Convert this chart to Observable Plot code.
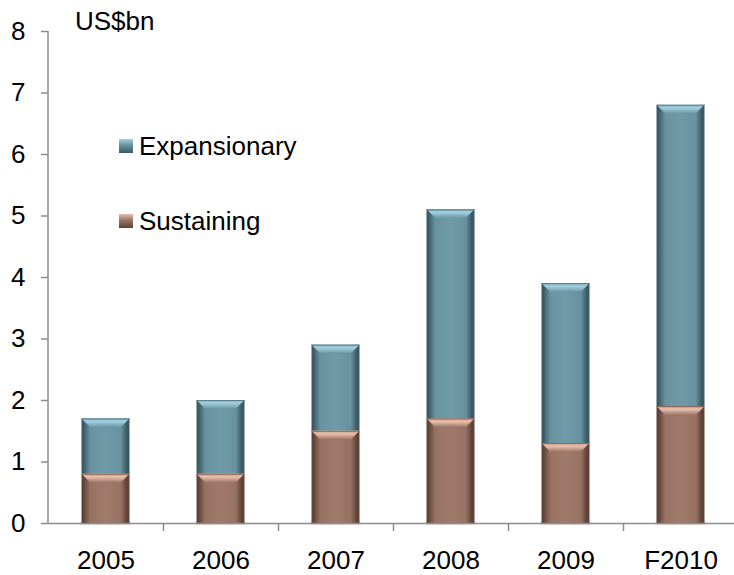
<!DOCTYPE html>
<html>
<head>
<meta charset="utf-8">
<script src="https://cdn.jsdelivr.net/npm/d3@7"></script>
<script src="https://cdn.jsdelivr.net/npm/@observablehq/plot@0.6"></script>
<style>
  body { margin: 0; background: #fff; font-family: "Liberation Sans", Arial, sans-serif; }
  #chart { position: relative; width: 734px; height: 575px; }
  .unit { position: absolute; left: 75px; top: 8px; font-size: 26px; line-height: 26px; color: #000; }
  .legend { position: absolute; left: 119px; font-size: 26px; line-height: 26px; color: #000; display: flex; align-items: center; }
  .legend i { display: inline-block; width: 14px; height: 14px; margin-right: 6px; }
</style>
</head>
<body>
<div id="chart"></div>
<script>
// Capital expenditure by year, US$bn
const years = ["2005", "2006", "2007", "2008", "2009", "F2010"];
const sustaining = [0.8, 0.8, 1.5, 1.7, 1.3, 1.9];
const expansionary = [0.9, 1.2, 1.4, 3.4, 2.6, 4.9];
const seriesNames = ["Expansionary", "Sustaining"];
const yTicks = [0, 1, 2, 3, 4, 5, 6, 7, 8];

// Stacked segments: sustaining at the base, expansionary on top
const segments = years.flatMap((year, i) => [
  {year, series: "Sustaining", y1: 0, y2: sustaining[i]},
  {year, series: "Expansionary", y1: sustaining[i], y2: sustaining[i] + expansionary[i]}
]);
const sus = segments.filter(d => d.series === "Sustaining");
const exp = segments.filter(d => d.series === "Expansionary");

const W = 734, H = 575;
const mLeft = 48, mRight = -4, mTop = 31, mBottom = 52;
const barInset = 33.5;
const bevel = 9;
const axisGrey = "#8c8c8c";

const palette = {
  Expansionary: {edge: "#3b5a66", body: "#6892a0", mid: "#6f9aa8", top: "#a3d0de", topEdge: "#80b2c1"},
  Sustaining: {edge: "#5f4338", body: "#977263", mid: "#a07a6b", top: "#ebbfac", topEdge: "#c99a88"}
};

// Bevelled caps drawn on top of each segment, positioned through the scales
function bevels(data) {
  return (index, scales) => {
    const g = d3.create("svg:g");
    const step = scales.x(years[1]) - scales.x(years[0]);
    for (const d of data) {
      const x0 = scales.x(d.year) + barInset;
      const x1 = scales.x(d.year) + step - barInset;
      const yt = scales.y(d.y2);
      const c = palette[d.series];
      g.append("polygon")
        .attr("points", [[x0, yt], [x1, yt], [x1 - bevel, yt + bevel], [x0 + bevel, yt + bevel]].map(p => p.join(",")).join(" "))
        .attr("fill", `url(#cap-${d.series})`);
      g.append("line")
        .attr("x1", x0).attr("x2", x1).attr("y1", yt + 0.5).attr("y2", yt + 0.5)
        .attr("stroke", c.edge).attr("stroke-opacity", 0.6);
    }
    return g.node();
  };
}

// Soft shadow under each bar's foot
function footShadow(index, scales) {
  const g = d3.create("svg:g");
  const step = scales.x(years[1]) - scales.x(years[0]);
  for (const year of years) {
    g.append("rect")
      .attr("x", scales.x(year) + barInset - 1)
      .attr("width", step - 2 * barInset + 2)
      .attr("y", scales.y(0) - 2)
      .attr("height", 4)
      .attr("fill", "#000").attr("fill-opacity", 0.12);
  }
  return g.node();
}

// Vertical axis line, plus category ticks on the baseline at band boundaries
function axisFrame(index, scales) {
  const g = d3.create("svg:g").attr("stroke", axisGrey).attr("stroke-width", 1.5);
  const y0 = scales.y(0);
  const xl = Math.round(scales.x(years[0]));
  g.append("line").attr("x1", xl).attr("x2", xl).attr("y1", scales.y(yTicks[yTicks.length - 1])).attr("y2", y0);
  for (const c of years.slice(1)) {
    const x = Math.round(scales.x(c)) + 0.5;
    g.append("line").attr("x1", x).attr("x2", x).attr("y1", y0).attr("y2", y0 + 8);
  }
  return g.node();
}

const plot = Plot.plot({
  width: W,
  height: H,
  marginLeft: mLeft,
  marginRight: mRight,
  marginTop: mTop,
  marginBottom: mBottom,
  style: {fontFamily: "Liberation Sans, Arial, sans-serif", fontSize: "26px", color: "#000", background: "transparent"},
  x: {domain: years, padding: 0, label: null},
  y: {domain: [0, 8], label: null},
  marks: [
    footShadow,
    Plot.barY(sus, {x: "year", y1: "y1", y2: "y2", fill: "url(#body-Sustaining)", insetLeft: barInset, insetRight: barInset}),
    Plot.barY(exp, {x: "year", y1: "y1", y2: "y2", fill: "url(#body-Expansionary)", insetLeft: barInset, insetRight: barInset}),
    bevels(segments),
    Plot.axisY({ticks: yTicks, tickSize: 7, tickPadding: 16, stroke: axisGrey, strokeWidth: 1.5, fontSize: 26, label: null}),
    Plot.ruleY([0], {stroke: axisGrey, strokeWidth: 1.5}),
    axisFrame,
    Plot.axisX({tickSize: 0, tickPadding: 27, fontSize: 26, label: null})
  ]
});

// Gradient definitions for the shaded bars
const svg = d3.select(plot);
const defs = svg.insert("defs", ":first-child");
for (const name of seriesNames) {
  const c = palette[name];
  const body = defs.append("linearGradient").attr("id", `body-${name}`)
    .attr("x1", 0).attr("x2", 1).attr("y1", 0).attr("y2", 0);
  [[0, c.edge], [0.04, c.edge], [0.18, c.body], [0.5, c.mid], [0.82, c.body], [0.94, c.edge], [1, c.edge]]
    .forEach(([o, col]) => body.append("stop").attr("offset", o).attr("stop-color", col));
  const cap = defs.append("linearGradient").attr("id", `cap-${name}`)
    .attr("x1", 0).attr("x2", 0).attr("y1", 0).attr("y2", 1);
  [[0, c.topEdge], [0.35, c.top], [1, c.body]]
    .forEach(([o, col]) => cap.append("stop").attr("offset", o).attr("stop-color", col));
}

const chart = document.getElementById("chart");
chart.appendChild(plot);

const unit = document.createElement("div");
unit.className = "unit";
unit.textContent = "US$bn";
chart.appendChild(unit);

const legendTops = {Expansionary: 133, Sustaining: 208};
for (const name of seriesNames) {
  const item = document.createElement("div");
  item.className = "legend";
  item.style.top = legendTops[name] + "px";
  const sw = document.createElement("i");
  sw.style.background = `linear-gradient(180deg, ${palette[name].top} 0%, ${palette[name].body} 45%, ${palette[name].edge} 100%)`;
  item.appendChild(sw);
  item.appendChild(document.createTextNode(name));
  chart.appendChild(item);
}
</script>
</body>
</html>
